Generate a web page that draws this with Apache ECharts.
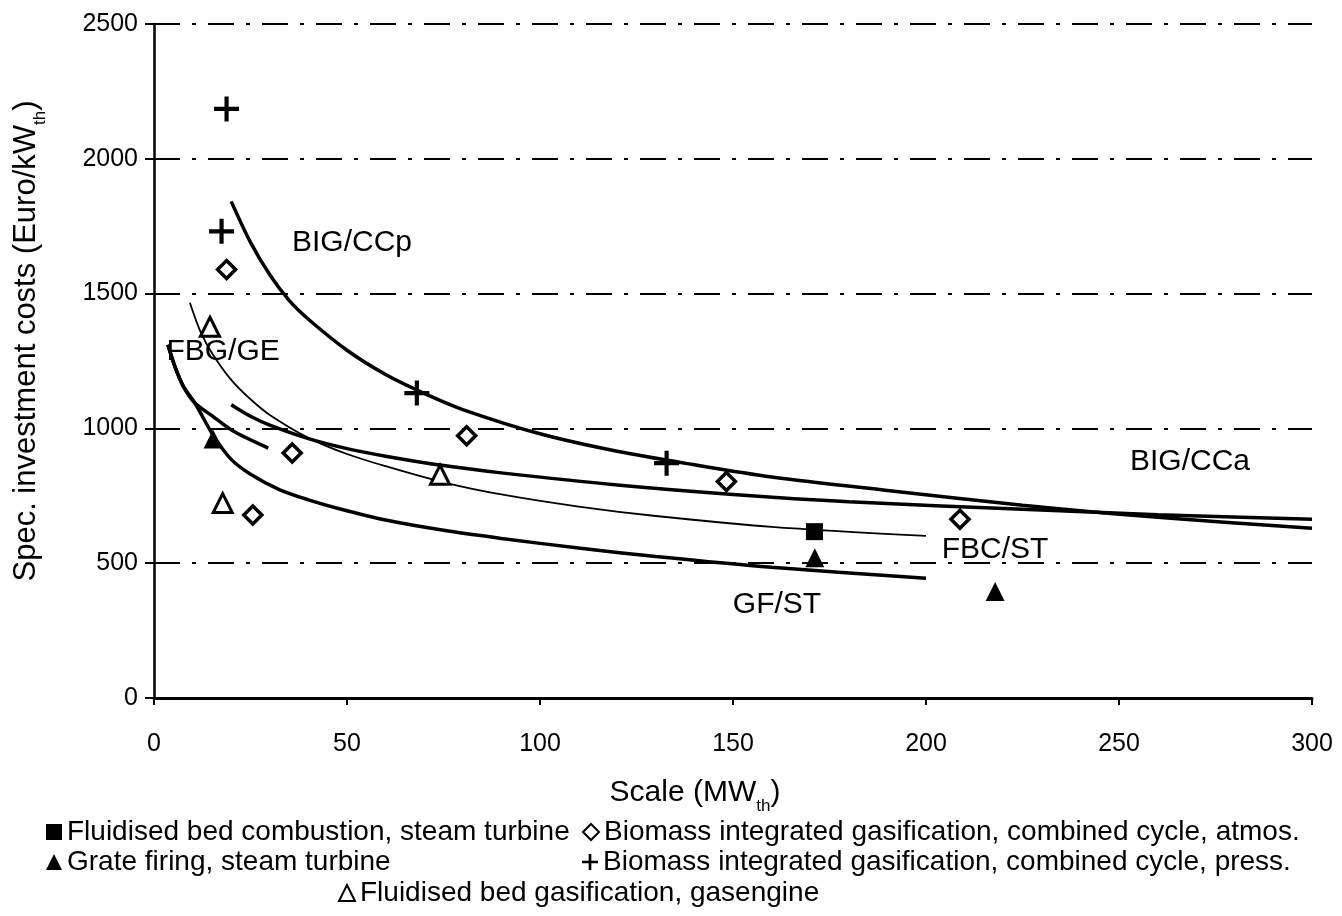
<!DOCTYPE html>
<html>
<head>
<meta charset="utf-8">
<script src="https://cdn.jsdelivr.net/npm/echarts@6/dist/echarts.min.js"></script>
<style>
  html, body { margin: 0; background: #fff; }
  #chart { width: 1342px; height: 916px; }
</style>
</head>
<body>
<div id="chart"></div>
<script>
// measured points (MWth, Euro/kWth)
const fbcSt = [[171.1, 617]];
const grateSt = [[15.3, 961], [171.2, 520], [217.9, 395]];
const bigAtmos = [[18.8, 1589], [25.6, 679], [35.8, 909], [81, 973], [148.3, 803], [208.8, 663]];
const bigPress = [[18.8, 2185], [17.5, 1731], [68.1, 1131], [132.8, 871]];
const fbgGe = [[14.5, 1377], [17.8, 723], [74.1, 828]];

// trend curves
const curveBigCCp = [[20, 1842], [25, 1690], [30, 1570], [35, 1475], [40, 1405], [50, 1290], [60, 1200], [70, 1130], [80, 1070], [100, 980], [120, 915], [140, 865], [160, 820], [190, 770], [225, 715], [260, 670], [300, 630]];
const curveBigCCa = [[20, 1088], [25, 1045], [30, 1012], [40, 962], [50, 925], [60, 897], [75, 862], [90, 835], [120, 790], [150, 755], [180, 728], [225, 700], [260, 680], [300, 663]];
const curveFbcSt = [[9.3, 1466], [12, 1360], [15, 1280], [20, 1180], [25, 1108], [30, 1050], [40, 965], [50, 905], [60, 860], [75, 800], [90, 755], [110, 710], [130, 675], [160, 635], [200, 601]];
const curveFbgGe = [[3.6, 1310], [5.4, 1230], [7.6, 1156], [10.6, 1094], [15.3, 1044], [20.5, 990], [29.6, 927]];
const curveGfSt = [[3.6, 1310], [5.4, 1230], [7.6, 1156], [10.6, 1094], [15.3, 975], [20, 885], [25, 830], [32.6, 772], [40, 735], [48, 702], [60, 660], [75, 622], [90, 592], [110, 556], [130, 525], [160, 485], [200, 444]];

// curve labels: x, y, text
const curveLabels = [
  [51.3, 1689, 'BIG/CCp'],
  [17.9, 1284, 'FBG/GE'],
  [268.4, 876, 'BIG/CCa'],
  [217.9, 549, 'FBC/ST'],
  [161.4, 345, 'GF/ST']
];

const xTicks = [0, 50, 100, 150, 200, 250, 300];
const yTicks = [0, 500, 1000, 1500, 2000, 2500];

const names = {
  fbc: 'Fluidised bed combustion, steam turbine',
  grate: 'Grate firing, steam turbine',
  atmos: 'Biomass integrated gasification, combined cycle, atmos.',
  press: 'Biomass integrated gasification, combined cycle, press.',
  fbg: 'Fluidised bed gasification, gasengine'
};

const FONT = 'Liberation Sans';
const plusPath = 'path://M0,10 H24 V14 H0 Z M10,0 H14 V24 H10 Z';

const chart = echarts.init(document.getElementById('chart'));

function curve(name, data, width) {
  return {
    name: name,
    type: 'line',
    data: data,
    smooth: 0.3,
    showSymbol: false,
    silent: true,
    z: 3,
    lineStyle: { color: '#000', width: width }
  };
}

function legendAt(name, left, top) {
  return {
    data: [name],
    left: left,
    top: top,
    padding: 0,
    itemWidth: 16,
    itemHeight: 16,
    selectedMode: false,
    textStyle: { fontFamily: FONT, fontSize: 28, color: '#000' }
  };
}

const subStyle = { fontFamily: FONT, fontSize: 17, color: '#000', verticalAlign: 'bottom', lineHeight: 17, padding: [0, 0, -7, 0] };

chart.setOption({
  animation: false,
  backgroundColor: '#fff',
  grid: { left: 154, right: 30, top: 24, bottom: 218 },
  legend: [
    legendAt(names.fbc, 46, 818),
    legendAt(names.grate, 46, 848),
    legendAt(names.atmos, 582, 818),
    legendAt(names.press, 582, 848),
    legendAt(names.fbg, 338, 879)
  ],
  xAxis: {
    type: 'value',
    min: xTicks[0],
    max: xTicks[xTicks.length - 1],
    interval: 50,
    name: 'Scale (MW{sub|th})',
    nameLocation: 'middle',
    nameGap: 80,
    nameTextStyle: {
      fontFamily: FONT, fontSize: 30, color: '#000', padding: [0, 76, 0, 0],
      rich: { sub: subStyle }
    },
    axisLine: { lineStyle: { color: '#000', width: 3 } },
    axisTick: { length: 7, lineStyle: { color: '#000', width: 2 } },
    axisLabel: { margin: 34, fontFamily: FONT, fontSize: 25, color: '#000' },
    splitLine: { show: false }
  },
  yAxis: {
    type: 'value',
    min: yTicks[0],
    max: yTicks[yTicks.length - 1],
    interval: 500,
    name: 'Spec. investment costs (Euro/kW{sub|th})',
    nameLocation: 'middle',
    nameGap: 112,
    nameTextStyle: {
      fontFamily: FONT, fontSize: 31, color: '#000', padding: [0, 0, 0, 40],
      rich: { sub: subStyle }
    },
    axisLine: { show: true, lineStyle: { color: '#000', width: 2.5 } },
    axisTick: { show: true, length: 9, lineStyle: { color: '#000', width: 2 } },
    axisLabel: { margin: 16, fontFamily: FONT, fontSize: 25, color: '#000', formatter: v => String(v) },
    splitLine: { show: true, lineStyle: { color: '#000', width: 2, type: [26, 12, 4, 12] } }
  },
  series: [
    curve('c-bigccp', curveBigCCp, 3.5),
    curve('c-bigcca', curveBigCCa, 3.5),
    curve('c-fbcst', curveFbcSt, 1.8),
    curve('c-fbgge', curveFbgGe, 3.5),
    curve('c-gfst', curveGfSt, 3.5),
    {
      name: names.fbc, type: 'scatter', data: fbcSt, z: 5,
      symbol: 'rect', symbolSize: 17,
      itemStyle: { color: '#000', opacity: 1 }
    },
    {
      name: names.grate, type: 'scatter', data: grateSt, z: 5,
      symbol: 'triangle', symbolSize: 19,
      itemStyle: { color: '#000', opacity: 1 }
    },
    {
      name: names.atmos, type: 'scatter', data: bigAtmos, z: 5,
      symbol: 'diamond', symbolSize: 18,
      itemStyle: { color: '#fff', borderColor: '#000', borderWidth: 3.5, opacity: 1 }
    },
    {
      name: names.press, type: 'scatter', data: bigPress, z: 5,
      symbol: plusPath, symbolSize: 25,
      itemStyle: { color: '#000', opacity: 1 }
    },
    {
      name: names.fbg, type: 'scatter', data: fbgGe, z: 5,
      symbol: 'triangle', symbolSize: 19,
      itemStyle: { color: '#fff', borderColor: '#000', borderWidth: 3, opacity: 1 }
    },
    {
      name: 'curve-labels', type: 'scatter', data: curveLabels, z: 6,
      symbolSize: 0, silent: true,
      itemStyle: { opacity: 1 },
      label: {
        show: true, position: 'inside',
        formatter: p => p.data[2],
        fontFamily: FONT, fontSize: 30, color: '#000'
      }
    }
  ]
});
</script>
</body>
</html>
